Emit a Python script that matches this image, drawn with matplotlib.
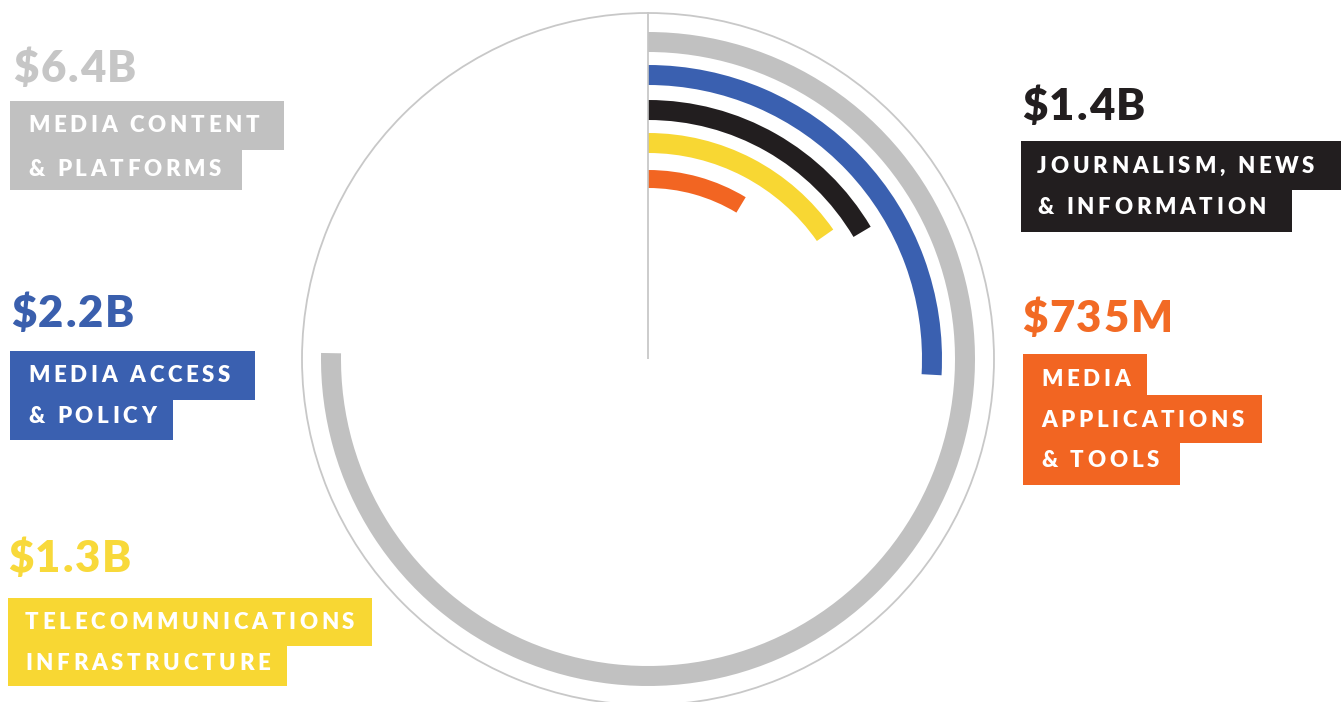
import numpy as np
import matplotlib
matplotlib.use("Agg")
import matplotlib.pyplot as plt
from matplotlib.patches import Rectangle
from matplotlib.font_manager import FontProperties, findfont, get_font

# ---- data -----------------------------------------------------------------
categories = [
    ["MEDIA CONTENT", "& PLATFORMS"],
    ["MEDIA ACCESS", "& POLICY"],
    ["JOURNALISM, NEWS", "& INFORMATION"],
    ["TELECOMMUNICATIONS", "INFRASTRUCTURE"],
    ["MEDIA", "APPLICATIONS", "& TOOLS"],
]
values_billion = [6.4, 2.2, 1.4, 1.3, 0.735]
value_labels = ["$6.4B", "$2.2B", "$1.4B", "$1.3B", "$735M"]
full_circle_billion = 8.5          # value that would close a full ring

# ---- style ----------------------------------------------------------------
bar_colors = ["#c1c1c1", "#3a60b0", "#221e1f", "#f8d733", "#f26522"]
value_colors = ["#c6c6c6", "#3a5fad", "#221e1f", "#f8d93a", "#f26a24"]
ring_radius = [317, 284, 249, 216, 180]   # px from centre
ring_width = [20, 20, 20, 20, 18]

W, H = 1341, 702
DPI = 100
fig = plt.figure(figsize=(W / DPI, H / DPI), dpi=DPI)
fig.patch.set_facecolor("white")

# ---- radial bars on a polar axes --------------------------------------------
cx, cy, R = 648, 359, 346
ax = fig.add_axes([(cx - R) / W, (H - cy - R) / H, 2 * R / W, 2 * R / H],
                  projection="polar")
ax.set_theta_zero_location("N")
ax.set_theta_direction(-1)
ax.set_ylim(0, R)
ax.set_xticks([])
ax.set_yticks([])
ax.grid(False)
ax.spines["polar"].set_color("#c8c8c8")
ax.spines["polar"].set_linewidth(1.3)

sweep = np.deg2rad(np.array(values_billion) / full_circle_billion * 360.0)
ax.barh(ring_radius, sweep, left=0, height=ring_width, color=bar_colors,
        align="center", linewidth=0)
ax.plot([0, 0], [0, R], color="#c4c4c4", lw=1.2, solid_capstyle="butt")

# ---- labels -----------------------------------------------------------------
ov = fig.add_axes([0, 0, 1, 1], zorder=3)
ov.set_xlim(0, W)
ov.set_ylim(H, 0)
ov.axis("off")
ov.patch.set_alpha(0)

value_fp = FontProperties(family="Lato", weight="heavy", size=31.5)
label_fp = FontProperties(family="Lato", weight="heavy", size=16)


def tracked_text(x, y, s, fp, color, tracking):
    """Draw s letter by letter with extra spacing (px) between glyphs."""
    font = get_font(findfont(fp))
    font.set_size(fp.get_size_in_points(), DPI)
    for ch in s:
        ov.text(x, y, ch, fontproperties=fp, color=color,
                ha="left", va="baseline")
        x += font.load_char(ord(ch)).linearHoriAdvance / 65536 + tracking


# per label: value anchor, text left, line baselines, box left, box rows
layout = [
    dict(value=(13, 82), tx=28, base=[132, 176], bx=10,
         rows=[(101, 150, 284), (150, 190, 242)]),
    dict(value=(11, 327), tx=28, base=[382, 423], bx=10,
         rows=[(351, 400, 255), (400, 440, 173)]),
    dict(value=(1022, 120), tx=1037, base=[173, 214], bx=1021,
         rows=[(141, 190, 1341), (190, 232, 1292)]),
    dict(value=(8, 572), tx=25, base=[629, 670], bx=8,
         rows=[(598, 646, 372), (646, 686, 287)]),
    dict(value=(1022, 332), tx=1041, base=[386, 427, 467], bx=1023,
         rows=[(354, 395, 1147), (395, 443, 1262), (443, 485, 1180)]),
]

for i, lay in enumerate(layout):
    vx, vy = lay["value"]
    tracked_text(vx, vy, value_labels[i], value_fp, value_colors[i], 1.8)
    for top, bottom, right in lay["rows"]:
        ov.add_patch(Rectangle((lay["bx"], top), right - lay["bx"],
                               bottom - top, facecolor=bar_colors[i],
                               edgecolor="none", zorder=1))
    for line, b in zip(categories[i], lay["base"]):
        tracked_text(lay["tx"], b, line, label_fp, "white", 3.75)

fig.savefig("out.png", dpi=DPI, facecolor="white")
